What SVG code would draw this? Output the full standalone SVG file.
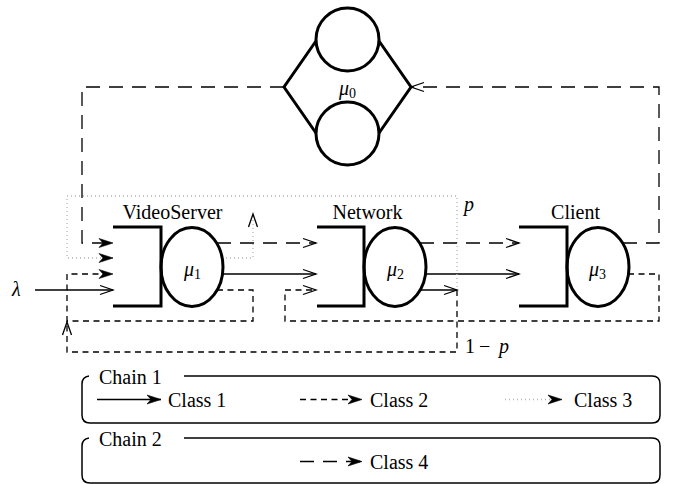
<svg xmlns="http://www.w3.org/2000/svg" width="673" height="484" viewBox="0 0 673 484">
<style>
  text { font-family: "Times New Roman", "Liberation Serif", Times, "DejaVu Serif", serif; font-size: 20px; fill: #000; }
  .m { font-style: italic; }
  .sub { font-size: 14px; font-style: normal; }
  .thick { fill: none; stroke: #000; stroke-width: 3; }
  .c { fill: none; stroke: #000; stroke-width: 1.3; }
  .c2 { stroke-dasharray: 6 4.5; }
  .c3 { stroke: #b4b4b4; stroke-dasharray: 1 3; }
  .c4 { stroke-dasharray: 14 9; }
  .frame { fill: none; stroke: #000; stroke-width: 1.5; }
</style>
<defs>
  <!-- open chevron head -->
  <marker id="ah" viewBox="-2 -2 17 13" refX="13" refY="4.5" markerWidth="17" markerHeight="13" markerUnits="userSpaceOnUse" orient="auto" overflow="visible">
    <path d="M0,0 L13,4.5 L0,9" fill="none" stroke="#000" stroke-width="1.3" stroke-dasharray="none"/>
  </marker>
  <!-- notched solid head -->
  <marker id="barb" viewBox="-2 -2 18 13" refX="14" refY="4.5" markerWidth="18" markerHeight="13" markerUnits="userSpaceOnUse" orient="auto" overflow="visible">
    <path d="M0,0 L14,4.5 L0,9 L4,4.5 Z" fill="#000" stroke="#000" stroke-width="0.6" stroke-dasharray="none"/>
  </marker>
</defs>

<!-- connectors -->
<g id="connectors">
  <!-- class 1 (solid) -->
  <path class="c" d="M35,290 H113" marker-end="url(#ah)"/>
  <path class="c" d="M222,274 H316" marker-end="url(#ah)"/>
  <path class="c" d="M425,274 H519" marker-end="url(#ah)"/>
  <path class="c" d="M420,290 H457" marker-end="url(#ah)"/>

  <!-- class 2 (short dashes) -->
  <path class="c c2" d="M457,290 V352 H67 V322" marker-end="url(#ah)"/>
  <path class="c c2" d="M67,322 V274 H113" marker-end="url(#barb)"/>
  <path class="c c2" d="M217,290 H253 V321 H67"/>
  <path class="c c2" d="M628,274 H659 V321 H285 V290 H316" marker-end="url(#ah)"/>

  <!-- class 3 (dotted) -->
  <path class="c c3" d="M222,258 H253 V214" marker-end="url(#ah)"/>
  <path class="c c3" d="M457,287 V196 H67 V258 H113" marker-end="url(#barb)"/>

  <!-- class 4 (long dashes) -->
  <path class="c c4" d="M284,87 H82 V243 H113" marker-end="url(#barb)"/>
  <path class="c c4" d="M217,243 H316" marker-end="url(#ah)"/>
  <path class="c c4" d="M420,243 H519" marker-end="url(#ah)"/>
  <path class="c c4" d="M623,243 H659 V87 H411" marker-end="url(#ah)"/>
</g>

<!-- delay station -->
<g id="mu0">
  <circle class="thick" cx="347.5" cy="39.5" r="31.5"/>
  <circle class="thick" cx="347.5" cy="133.5" r="31.5"/>
  <path class="thick" d="M316,41 L284,87 L316,133 M379,41 L411,87 L379,133"/>
  <text x="339" y="95"><tspan class="m">μ</tspan><tspan class="sub" dy="3">0</tspan></text>
</g>

<g id="videoserver">
  <path class="thick" d="M113,227 H161 V306 H113"/>
  <ellipse class="thick" cx="192" cy="267" rx="31" ry="39.5"/>
  <text x="172.5" y="219" text-anchor="middle">VideoServer</text>
  <text x="184" y="276"><tspan class="m">μ</tspan><tspan class="sub" dy="3">1</tspan></text>
</g>

<g id="network">
  <path class="thick" d="M317,227 H364 V306 H317"/>
  <ellipse class="thick" cx="395" cy="267" rx="31" ry="39.5"/>
  <text x="367.5" y="219" text-anchor="middle">Network</text>
  <text x="387" y="276"><tspan class="m">μ</tspan><tspan class="sub" dy="3">2</tspan></text>
</g>

<g id="client">
  <path class="thick" d="M519,227 H567 V306 H519"/>
  <ellipse class="thick" cx="598" cy="267" rx="31" ry="39.5"/>
  <text x="575.5" y="219" text-anchor="middle">Client</text>
  <text x="589" y="276"><tspan class="m">μ</tspan><tspan class="sub" dy="3">3</tspan></text>
</g>

<!-- branch and arrival labels -->
<g id="labels">
  <text class="m" x="12" y="296">λ</text>
  <text class="m" x="464" y="211">p</text>
  <text x="465" y="353">1</text>
  <text x="479" y="353">−</text>
  <text class="m" x="499" y="353">p</text>
</g>

<!-- legend -->
<g id="legend">
  <path class="frame" d="M184,376 H652 Q660,376 660,384 V415 Q660,423 652,423 H90 Q82,423 82,415 V384 Q82,377 89,376"/>
  <text x="99" y="384">Chain 1</text>
  <path class="c" d="M97,399.5 H161" marker-end="url(#barb)"/>
  <text x="168" y="407">Class 1</text>
  <path class="c c2" d="M300,399.5 H362" marker-end="url(#barb)"/>
  <text x="370" y="407">Class 2</text>
  <path class="c c3" d="M505,399.5 H562" marker-end="url(#barb)"/>
  <text x="574" y="407">Class 3</text>

  <path class="frame" d="M184,438 H652 Q660,438 660,446 V475 Q660,483 652,483 H90 Q82,483 82,475 V446 Q82,439 89,438"/>
  <text x="99" y="446">Chain 2</text>
  <path class="c c4" d="M300,461.5 H362" marker-end="url(#barb)"/>
  <text x="370" y="469">Class 4</text>
</g>
</svg>
